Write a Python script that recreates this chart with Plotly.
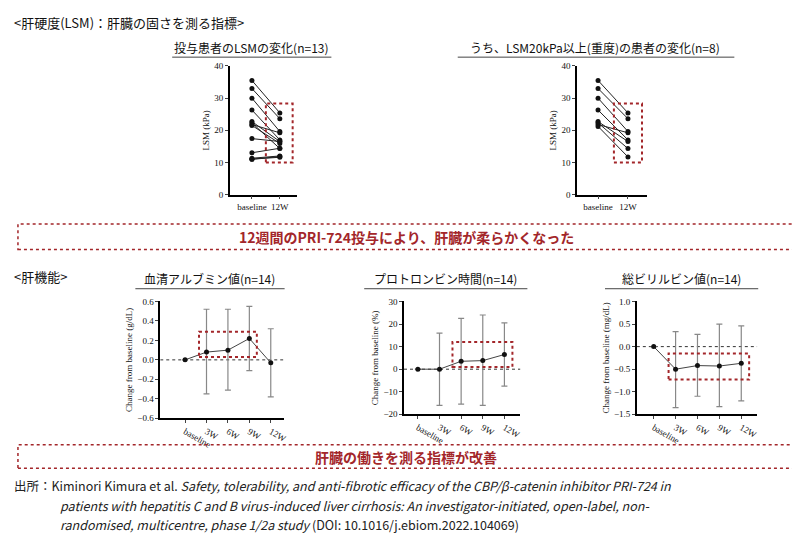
import plotly.graph_objects as go

W, H = 800, 533
JP = "Noto Sans CJK JP"
SERIF = "Liberation Serif"
RED = "#a3262a"

# LSM data (kPa)
lsm_all_base = [35.5, 33, 30, 26.3, 22.7, 22.3, 21.8, 21.5, 17.4, 13, 11.3, 11, 11]
lsm_all_12w = [25.4, 23.6, 19.6, 17, 16.5, 14.3, 19.2, 15.9, 16.5, 14.4, 12, 11.8, 11.6]
lsm_sev_base = [35.5, 33, 30, 26.3, 22.7, 22.3, 21.8, 21.2]
lsm_sev_12w = [25.4, 23.6, 19.6, 17, 16.5, 14.3, 19.2, 11.7]

weeks = ["baseline", "3W", "6W", "9W", "12W"]
alb_mean = [0, 0.08, 0.10, 0.22, -0.03]
alb_hi = [None, 0.52, 0.52, 0.55, 0.32]
alb_lo = [None, -0.35, -0.31, -0.11, -0.38]
pt_mean = [0, 0, 3.5, 3.8, 6.5]
pt_hi = [None, 16, 22.5, 24, 20.5]
pt_lo = [None, -16, -15.5, -16, -7.5]
bil_mean = [0, -0.5, -0.42, -0.43, -0.37]
bil_hi = [None, 0.33, 0.27, 0.5, 0.46]
bil_lo = [None, -1.35, -1.1, -1.33, -1.2]

fig = go.Figure()

def dom(x0, x1, y0, y1):
    return dict(x=[x0 / W, x1 / W], y=[1 - y1 / H, 1 - y0 / H])

def axes(n, d, xr, yr, dtick, ticklabels, ytitle, fmt=None):
    ax = dict(domain=d["x"], range=xr, tickvals=list(range(len(ticklabels))), ticktext=ticklabels,
              showline=True, linecolor="black", linewidth=1.5, ticks="outside", ticklen=3,
              showgrid=False, zeroline=False, tickfont=dict(family=SERIF, size=9, color="#111"),
              anchor="y" + str(n))
    ay = dict(domain=d["y"], range=yr, dtick=dtick, showline=True, linecolor="black", linewidth=1.5,
              ticks="outside", ticklen=3, showgrid=False, zeroline=False,
              tickfont=dict(family=SERIF, size=9, color="#111"), anchor="x" + str(n),
              title=dict(text=ytitle, font=dict(family=SERIF, size=9, color="#111"), standoff=3))
    if fmt:
        ay["tickformat"] = fmt
    fig.layout["xaxis" + str(n)] = ax
    fig.layout["yaxis" + str(n)] = ay

def box(n, x0, x1, y0, y1):
    fig.add_shape(type="rect", xref="x" + str(n), yref="y" + str(n), x0=x0, x1=x1, y0=y0, y1=y1,
                  line=dict(color=RED, width=2, dash="dot"))

# top panels
for n, base, end in [(1, lsm_all_base, lsm_all_12w), (2, lsm_sev_base, lsm_sev_12w)]:
    for b, e in zip(base, end):
        fig.add_trace(go.Scatter(x=[0, 1], y=[b, e], mode="lines+markers", xaxis="x" + str(n), yaxis="y" + str(n),
                                 line=dict(color="#222", width=1), marker=dict(size=5, color="#111"),
                                 showlegend=False))
axes(1, dom(223, 290, 54, 185), [-0.79, 1.6], [0, 40], 10, ["baseline", "12W"], "LSM (kPa)")
axes(2, dom(572, 642, 54, 185), [-0.7, 1.63], [0, 40], 10, ["baseline", "12W"], "LSM (kPa)")
box(1, 0.5, 1.46, 10, 28.3)
box(2, 0.53, 1.47, 10, 28.3)

# bottom panels
panels = [
    (3, alb_mean, alb_hi, alb_lo, dom(153, 277, 294, 413), [-1.16, 4.6], [-0.6, 0.6], 0.2,
     "Change from baseline (g/dL)", ".1f", (0.65, 3.35, 0.03, 0.29)),
    (4, pt_mean, pt_hi, pt_lo, dom(398, 515, 294, 409), [-0.64, 4.74], [-20, 30], 10,
     "Change from baseline (%)", None, (1.6, 4.37, 1, 12)),
    (5, bil_mean, bil_hi, bil_lo, dom(632, 753, 294, 409), [-0.77, 4.73], [-1.5, 1.0], 0.5,
     "Change from baseline (mg/dL)", ".1f", (0.68, 4.36, -0.73, -0.15)),
]
for n, m, hi, lo, d, xr, yr, dt, yt, fmt, bx in panels:
    up = [0 if h is None else h - v for h, v in zip(hi, m)]
    dn = [0 if l is None else v - l for l, v in zip(lo, m)]
    fig.add_trace(go.Scatter(x=xr, y=[0, 0], mode="lines", xaxis="x" + str(n), yaxis="y" + str(n),
                             line=dict(color="#333", width=1, dash="dot"), showlegend=False))
    fig.add_trace(go.Scatter(x=list(range(5)), y=m, mode="lines+markers", xaxis="x" + str(n), yaxis="y" + str(n),
                             line=dict(color="#444", width=1), marker=dict(size=5, color="#111"),
                             error_y=dict(type="data", symmetric=False, array=up, arrayminus=dn,
                                          color="#888", thickness=1.2, width=3),
                             showlegend=False))
    axes(n, d, xr, yr, dt, weeks, yt, fmt)
    box(n, *bx)

def text(x, y, s, size=11, color="#111", anchor="left"):
    fig.add_annotation(x=x / W, y=1 - y / H, xref="paper", yref="paper", text=s, showarrow=False,
                       xanchor=anchor, yanchor="middle", align="left",
                       font=dict(family=JP, size=size, color=color))

def pline(x0, y0, x1, y1, color="#444", width=1, dash="solid"):
    fig.add_shape(type="line", xref="paper", yref="paper", x0=x0 / W, x1=x1 / W, y0=1 - y0 / H, y1=1 - y1 / H,
                  line=dict(color=color, width=width, dash=dash))

def prect(x0, y0, x1, y1):
    fig.add_shape(type="rect", xref="paper", yref="paper", x0=x0 / W, x1=x1 / W, y0=1 - y1 / H, y1=1 - y0 / H,
                  line=dict(color=RED, width=1.5, dash="dot"))

text(4, 10, "<肝硬度(LSM)：肝臓の固さを測る指標>", 13)
text(245, 35, "投与患者のLSMの変化(n=13)", 12, anchor="center")
pline(165, 45, 325, 45)
text(590, 35, "うち、LSM20kPa以上(重度)の患者の変化(n=8)", 12, anchor="center")
pline(452, 45, 730, 45)

prect(10, 215, 790, 241)
text(400, 228, "<b>12週間のPRI-724投与により、肝臓が柔らかくなった</b>", 14, RED, "center")

text(4, 269, "<肝機能>", 13)
text(203, 271, "血清アルブミン値(n=14)", 12, anchor="center")
pline(128, 281, 278, 281)
text(440, 271, "プロトロンビン時間(n=14)", 12, anchor="center")
pline(358, 281, 522, 281)
text(677, 271, "総ビリルビン値(n=14)", 12, anchor="center")
pline(600, 281, 754, 281)

prect(10, 440, 790, 464)
text(400, 452, "<b>肝臓の働きを測る指標が改善</b>", 14, RED, "center")

text(4, 482, "出所：Kiminori Kimura et al. <i>Safety, tolerability, and anti-fibrotic efficacy of the CBP/β-catenin inhibitor PRI-724 in</i>", 12.5, "#222")
text(50, 502, "<i>patients with hepatitis C and B virus-induced liver cirrhosis: An investigator-initiated, open-label, non-</i>", 12.5, "#222")
text(50, 521, "<i>randomised, multicentre, phase 1/2a study</i> (DOI: 10.1016/j.ebiom.2022.104069)", 12.5, "#222")

fig.update_layout(width=W, height=H, margin=dict(l=0, r=0, t=0, b=0),
                  paper_bgcolor="white", plot_bgcolor="white")
fig.write_html("out.html")
